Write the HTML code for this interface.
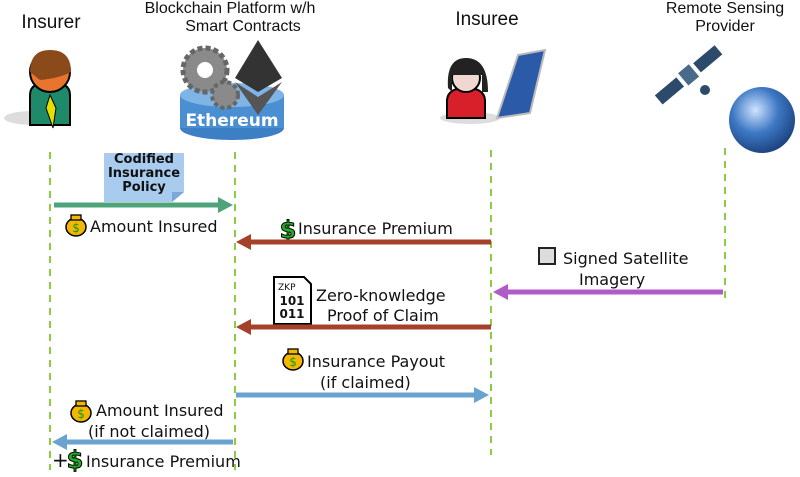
<!DOCTYPE html>
<html><head><meta charset="utf-8"><style>
body{margin:0;width:800px;height:472px;background:#fff;overflow:hidden;font-family:"Liberation Sans",sans-serif}
svg text{font-family:"DejaVu Sans",sans-serif;fill:#111}
svg text.t{font-family:"Liberation Sans",sans-serif}
</style></head><body>
<svg width="800" height="472" viewBox="0 0 800 472" xmlns="http://www.w3.org/2000/svg">
<defs>
<radialGradient id="gl" cx="0.4" cy="0.35" r="0.7"><stop offset="0" stop-color="#cfe3ff"/><stop offset="0.5" stop-color="#3d78c4"/><stop offset="1" stop-color="#1a3e7a"/></radialGradient>
<g id="bag"><ellipse cx="0" cy="3" rx="10" ry="9" fill="#f5b800" stroke="#000" stroke-width="1.5"/><rect x="-5" y="-9" width="10" height="5" fill="#f5b800" stroke="#000" stroke-width="1.3"/><text x="0" y="8" font-size="12" text-anchor="middle" style="fill:#1a9a1a">$</text></g>
<g id="dol"><text x="0" y="0" font-size="24" font-weight="bold" text-anchor="middle" style="fill:#22b022;stroke:#000;stroke-width:1">$</text></g>
</defs>
<!-- titles -->
<text class="t" x="51" y="28" font-size="19" text-anchor="middle">Insurer</text>
<text class="t" x="230" y="13" font-size="16" text-anchor="middle">Blockchain Platform w/h</text>
<text class="t" x="243" y="31" font-size="16" text-anchor="middle">Smart Contracts</text>
<text class="t" x="487" y="25" font-size="19" text-anchor="middle">Insuree</text>
<text class="t" x="725" y="13" font-size="16" text-anchor="middle">Remote Sensing</text>
<text class="t" x="725" y="31" font-size="16" text-anchor="middle">Provider</text>
<!-- insurer icon -->
<ellipse cx="34" cy="118" rx="30" ry="7" fill="#ddd"/>
<path d="M30 95 Q30 82 50 82 Q70 82 70 95 L70 125 L30 125 Z" fill="#1e8a6a" stroke="#000" stroke-width="2"/>
<path d="M50 95 L46 108 L53 128 L56 108 Z" fill="#e6e000" stroke="#000" stroke-width="1"/>
<circle cx="50" cy="72" r="20" fill="#e8742e" stroke="#000" stroke-width="2"/>
<path d="M30 72 Q30 50 50 50 Q71 50 71 72 Q60 78 40 80 Z" fill="#8a4a1a"/>
<!-- ethereum icon -->
<ellipse cx="232" cy="128" rx="52" ry="12" fill="#3c7fc4"/>
<rect x="180" y="95" width="104" height="33" fill="#4a8fd2"/>
<ellipse cx="232" cy="95" rx="52" ry="12" fill="#7fb4e6"/>
<circle cx="205" cy="70" r="22" fill="#8a8a8a" stroke="#666" stroke-width="5" stroke-dasharray="5 3"/>
<circle cx="205" cy="70" r="8" fill="#fff"/>
<circle cx="225" cy="95" r="13" fill="#8a8a8a" stroke="#666" stroke-width="4" stroke-dasharray="4 3"/>
<polygon points="258,40 282,78 258,92 235,78" fill="#333"/>
<polygon points="258,97 282,82 258,115 235,82" fill="#555"/>
<text x="232" y="126" font-size="17" font-weight="bold" text-anchor="middle" style="fill:#fff">Ethereum</text>
<!-- insuree icon -->
<ellipse cx="470" cy="118" rx="30" ry="6" fill="#ddd"/>
<path d="M447 100 Q448 88 466 88 Q484 88 485 100 L485 118 L447 118 Z" fill="#d8202a" stroke="#000" stroke-width="2"/>
<circle cx="466" cy="78" r="14" fill="#f0d8d0" stroke="#000" stroke-width="2"/>
<path d="M448 88 Q446 58 466 58 Q488 58 488 92 L482 92 L482 75 L452 75 L452 92 Z" fill="#222"/>
<polygon points="518,55 545,50 530,113 497,118" fill="#2a5aa8" stroke="#bbb" stroke-width="2"/>
<!-- satellite + globe -->
<g transform="rotate(-40 690 75)"><rect x="650" y="68" width="28" height="12" fill="#2c4a6a"/><rect x="682" y="66" width="14" height="16" fill="#4a6a8a"/><rect x="700" y="68" width="28" height="12" fill="#2c4a6a"/></g>
<circle cx="705" cy="90" r="5" fill="#2c4a6a"/>
<circle cx="762" cy="120" r="33" fill="url(#gl)"/>
<!-- lifelines -->
<g stroke="#8fcb40" stroke-width="2" stroke-dasharray="7 6" fill="none">
<line x1="50" y1="152" x2="50" y2="470"/><line x1="235" y1="152" x2="235" y2="470"/>
<line x1="491" y1="150" x2="491" y2="455"/><line x1="725" y1="148" x2="725" y2="298"/>
</g>
<!-- policy note -->
<path d="M104 153 L184 153 L184 192 L172 202 L104 202 Z" fill="#a9cbee"/>
<path d="M184 192 L172 192 L172 202 Z" fill="#7aa8d8"/>
<text x="144" y="163" font-size="13" font-weight="bold" text-anchor="middle">Codified</text>
<text x="144" y="177" font-size="13" font-weight="bold" text-anchor="middle">Insurance</text>
<text x="144" y="191" font-size="13" font-weight="bold" text-anchor="middle">Policy</text>
<!-- arrows -->
<line x1="54" y1="205" x2="220" y2="205" stroke="#4fa37a" stroke-width="5"/><polygon points="233,205 218,197 218,213" fill="#4fa37a"/>
<use href="#bag" x="76" y="224"/><text x="90" y="232" font-size="16">Amount Insured</text>
<use href="#dol" x="288" y="238"/><text x="298" y="234" font-size="16">Insurance Premium</text>
<line x1="491" y1="242" x2="248" y2="242" stroke="#a5412a" stroke-width="5"/><polygon points="236,242 251,234 251,250" fill="#a5412a"/>
<rect x="539" y="248" width="16" height="16" fill="#ddd" stroke="#222" stroke-width="2"/>
<text x="563" y="264" font-size="16">Signed Satellite</text>
<text x="579" y="285" font-size="16">Imagery</text>
<line x1="723" y1="292" x2="505" y2="292" stroke="#b05cc8" stroke-width="5"/><polygon points="493,292 508,284 508,300" fill="#b05cc8"/>
<path d="M274 277 L304 277 L311 284 L311 324 L274 324 Z" fill="#fff" stroke="#000" stroke-width="2"/>
<text x="278" y="290" font-size="9">ZKP</text>
<text x="292" y="305" font-size="12" font-weight="bold" text-anchor="middle">101</text>
<text x="292" y="318" font-size="12" font-weight="bold" text-anchor="middle">011</text>
<text x="316" y="301" font-size="16">Zero-knowledge</text>
<text x="327" y="321" font-size="16">Proof of Claim</text>
<line x1="491" y1="327" x2="248" y2="327" stroke="#a5412a" stroke-width="5"/><polygon points="236,327 251,319 251,335" fill="#a5412a"/>
<use href="#bag" x="293" y="358"/><text x="307" y="367" font-size="16">Insurance Payout</text>
<text x="320" y="388" font-size="16">(if claimed)</text>
<line x1="236" y1="395" x2="476" y2="395" stroke="#6aa3d0" stroke-width="5"/><polygon points="489,395 474,387 474,403" fill="#6aa3d0"/>
<use href="#bag" x="81" y="410"/><text x="96" y="416" font-size="16">Amount Insured</text>
<text x="88" y="437" font-size="16">(if not claimed)</text>
<line x1="233" y1="442" x2="64" y2="442" stroke="#6aa3d0" stroke-width="5"/><polygon points="52,442 67,434 67,450" fill="#6aa3d0"/>
<text x="52" y="467" font-size="20">+</text>
<use href="#dol" x="75" y="468"/><text x="86" y="467" font-size="16">Insurance Premium</text>
</svg>
</body></html>
